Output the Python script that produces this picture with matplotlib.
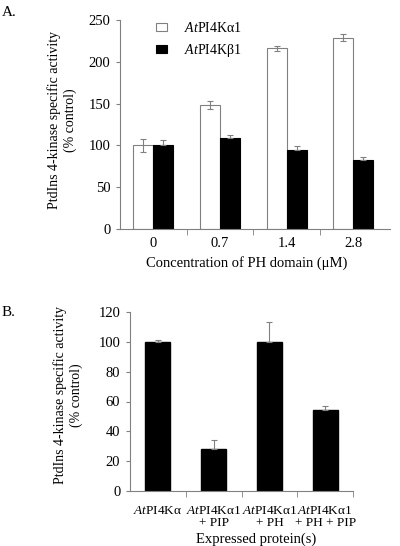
import matplotlib
matplotlib.use("Agg")
import matplotlib.pyplot as plt
import numpy as np

plt.rcParams['font.family'] = ['Liberation Serif', 'DejaVu Serif']
plt.rcParams['mathtext.fontset'] = 'custom'
plt.rcParams['mathtext.rm'] = 'Liberation Serif'
plt.rcParams['mathtext.it'] = 'Liberation Serif:italic'

# Panel A data
conc_labels = ['0', '0.7', '1.4', '2.8']
alpha_vals = [100, 148, 216, 229]
alpha_err = [8, 5, 3, 4]
beta_vals = [100, 109, 95, 82]
beta_err = [6, 4, 4, 4]
series_labels = [r'$\mathit{At}$PI4Kα1', r'$\mathit{At}$PI4Kβ1']

# Panel B data
protein_labels = [r'$\mathit{At}$PI4Kα', r'$\mathit{At}$PI4Kα1' + '\n+ PIP',
                  r'$\mathit{At}$PI4Kα1' + '\n+ PH', r'$\mathit{At}$PI4Kα1' + '\n+ PH + PIP']
b_vals = [100, 28, 100, 54]
b_err = [1.5, 6, 13, 3]

W, H = 400, 546
fig = plt.figure(figsize=(W/100, H/100), dpi=100)
ax_color = '#808080'
ekw = dict(ecolor=ax_color, elinewidth=0.8, capsize=2.5, capthick=0.8)

def style(ax):
    for s in ['top', 'right']:
        ax.spines[s].set_visible(False)
    for s in ['left', 'bottom']:
        ax.spines[s].set_color(ax_color)
        ax.spines[s].set_linewidth(0.8)
    ax.tick_params(axis='y', direction='out', length=3, color=ax_color, labelsize=10.5, pad=4)
    ax.tick_params(axis='x', which='major', length=0, labelsize=10.5, pad=6)
    ax.tick_params(axis='x', which='minor', direction='out', length=4, color=ax_color)

# Panel A
axA = fig.add_axes([120/W, 1-229/H, 270/W, 209/H])
x = np.arange(len(conc_labels))
bw = 0.3
axA.bar(x - bw/2, alpha_vals, bw, color='white', edgecolor=ax_color, linewidth=0.8,
        yerr=alpha_err, error_kw=ekw, label=series_labels[0])
axA.bar(x + bw/2, beta_vals, bw, color='black', edgecolor='black', linewidth=0.8,
        yerr=[np.zeros(len(beta_err)), beta_err], error_kw=ekw, label=series_labels[1])
axA.set_xlim(-0.5, 3.55)
axA.set_ylim(0, 250)
axA.set_yticks([0, 50, 100, 150, 200, 250])
axA.set_xticks(x)
axA.set_xticklabels(conc_labels)
axA.set_xticks([0.5, 1.5, 2.5], minor=True)
style(axA)
axA.set_xlabel('Concentration of PH domain (μM)', fontsize=10.5)
axA.xaxis.set_label_coords((247-120)/270, -(263-229)/209)
axA.xaxis.label.set_va('center')
axA.set_ylabel('PtdIns 4-kinase specific activity\n(% control)', fontsize=10)
axA.yaxis.set_label_coords(-(120-62)/270, (229-120)/209)
axA.yaxis.label.set_va('center')
axA.legend(loc='upper left', bbox_to_anchor=(0.133, 0.995), frameon=False, fontsize=10,
           borderpad=0, borderaxespad=0,
           handlelength=0.8, handleheight=0.55, labelspacing=0.5, handletextpad=1.2)
fig.text(2/W, 1-12/H, 'A.', fontsize=11, va='center')

# Panel B
axB = fig.add_axes([130/W, 1-491/H, 223/W, 179/H])
xb = np.arange(len(protein_labels))
axB.bar(xb, b_vals, 0.45, color='black', edgecolor='black',
        yerr=[np.zeros(len(b_err)), b_err], error_kw=ekw)
axB.set_xlim(-0.5, 3.5)
axB.set_ylim(0, 120)
axB.set_yticks([0, 20, 40, 60, 80, 100, 120])
axB.set_xticks(xb)
axB.set_xticklabels(protein_labels, linespacing=1.05)
axB.set_xticks([0.5, 1.5, 2.5, 3.5], minor=True)
style(axB)
axB.tick_params(axis='x', which='major', labelsize=9.5, pad=10)
axB.set_xlabel('Expressed protein(s)', fontsize=10.5)
axB.xaxis.set_label_coords((256-130)/223, -(539-491)/179)
axB.xaxis.label.set_va('center')
axB.set_ylabel('PtdIns 4-kinase specific activity\n(% control)', fontsize=10)
axB.yaxis.set_label_coords(-(130-68)/223, (491-395)/179)
axB.yaxis.label.set_va('center')
fig.text(2/W, 1-313/H, 'B.', fontsize=11, va='center')

fig.savefig('out.png', dpi=100)
